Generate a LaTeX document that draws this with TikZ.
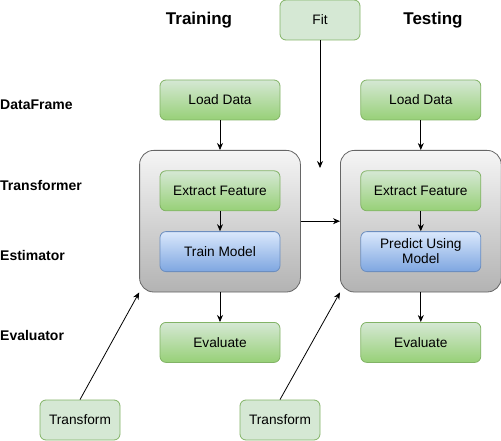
\documentclass[tikz,border=0pt]{standalone}
\usepackage{fontspec}
\setmainfont{Liberation Sans}
\usepackage{xcolor}
\usepackage{tikz}
\usetikzlibrary{positioning, backgrounds, arrows.meta, fit}

\definecolor{grnFill}{HTML}{D5E8D4}
\definecolor{grnDark}{HTML}{97D077}
\definecolor{grnLine}{HTML}{82B366}
\definecolor{bluFill}{HTML}{DAE8FC}
\definecolor{bluDark}{HTML}{7EA6E0}
\definecolor{bluLine}{HTML}{6C8EBF}
\definecolor{gryFill}{HTML}{F5F5F5}
\definecolor{gryDark}{HTML}{B3B3B3}
\definecolor{gryLine}{HTML}{666666}

\begin{document}
\begin{tikzpicture}[x=1pt, y=1pt,
  base/.style={rectangle, rounded corners=6pt, line width=0.8pt, align=center,
    minimum height=40pt, inner sep=2pt, font=\fontsize{13.7}{15}\selectfont},
  task/.style={base, draw=grnLine, top color=grnFill, bottom color=grnDark,
    minimum width=120pt},
  model/.style={base, draw=bluLine, top color=bluFill, bottom color=bluDark,
    minimum width=120pt},
  param/.style={base, draw=grnLine, fill=grnFill, minimum width=80pt},
  stagebox/.style={rectangle, rounded corners=14pt, draw=gryLine, line width=0.8pt,
    top color=gryFill, bottom color=gryDark, inner sep=20pt},
  title/.style={font=\fontsize{17}{20}\selectfont\bfseries},
  rowlbl/.style={anchor=west, inner sep=0pt, font=\fontsize{14}{16}\selectfont\bfseries},
  link/.style={-{Stealth[length=7pt, width=6pt]}, line width=0.8pt}
]
  \useasboundingbox (0,0) rectangle (501,-441);

  % training column
  \node[task] (loadA) at (220,-100) {Load Data};
  \node[task, below=50pt of loadA] (extrA) {Extract Feature};
  \node[model, below=20pt of extrA] (trainA) {Train Model};
  \node[task, below=50pt of trainA] (evalA) {Evaluate};

  % testing column
  \node[task, right=80pt of loadA] (loadB) {Load Data};
  \node[task, below=50pt of loadB] (extrB) {Extract Feature};
  \node[model, below=20pt of extrB] (predB) {Predict Using\\Model};
  \node[task, below=50pt of predB] (evalB) {Evaluate};

  \begin{scope}[on background layer]
    \node[stagebox, fit=(extrA)(trainA)] (boxA) {};
    \node[stagebox, fit=(extrB)(predB)] (boxB) {};
  \end{scope}

  \node[param] (fit) at (320,-20) {Fit};
  \node[param] (tfA) at (80,-420) {Transform};
  \node[param] (tfB) at (280,-420) {Transform};
  \coordinate (fitEnd) at (320,-168);

  \node[title] (trainT) at (199,-20) {Training};
  \node[title] (testT) at (433,-20) {Testing};

  \node[rowlbl] (lblDF) at (0,-105) {DataFrame};
  \node[rowlbl] (lblTR) at (0,-185) {Transformer};
  \node[rowlbl] (lblES) at (0,-255) {Estimator};
  \node[rowlbl] (lblEV) at (0,-335) {Evaluator};

  \draw[link] (loadA) -- (boxA);
  \draw[link] (extrA) -- (trainA);
  \draw[link] (boxA) -- (evalA);
  \draw[link] (loadB) -- (boxB);
  \draw[link] (extrB) -- (predB);
  \draw[link] (boxB) -- (evalB);
  \draw[link] (boxA) -- (boxB);
  \draw[link] (fit) -- (fitEnd);
  \draw[link] (tfA.north) -- (boxA.south west);
  \draw[link] (tfB.north) -- (boxB.south west);
\end{tikzpicture}
\end{document}
